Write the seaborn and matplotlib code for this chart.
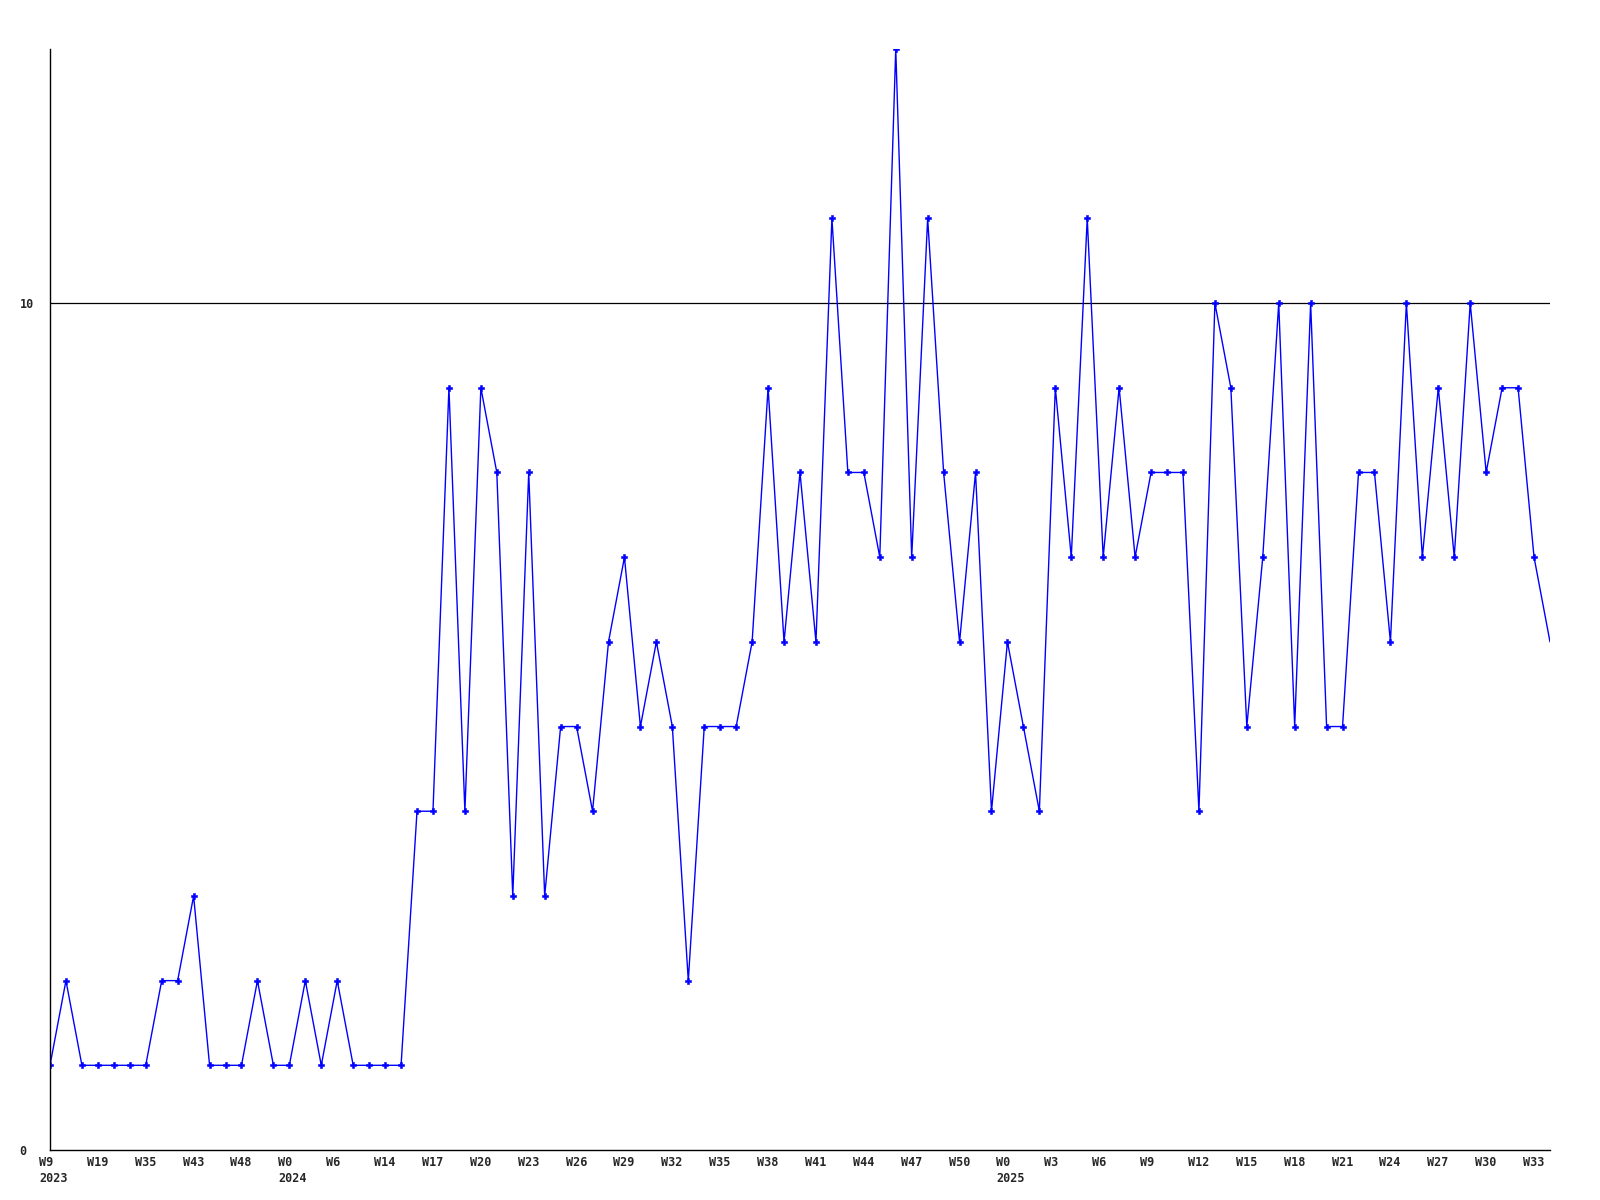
import matplotlib
matplotlib.use('Agg')
import matplotlib.pyplot as plt
import matplotlib.transforms as mtransforms
import numpy as np
import pandas as pd
import seaborn as sns

# weekly counts, one point per week
counts = [
    1, 2, 1, 1, 1, 1, 1, 2, 2, 3,
    1, 1, 1, 2, 1, 1, 2, 1, 2, 1,
    1, 1, 1, 4, 4, 9, 4, 9, 8, 3,
    8, 3, 5, 5, 4, 6, 7, 5, 6, 5,
    2, 5, 5, 5, 6, 9, 6, 8, 6, 11,
    8, 8, 7, 13, 7, 11, 8, 6, 8, 4,
    6, 5, 4, 9, 7, 11, 7, 9, 7, 8,
    8, 8, 4, 10, 9, 5, 7, 10, 5, 10,
    5, 5, 8, 8, 6, 10, 7, 9, 7, 10,
    8, 9, 9, 7, 6,
]

# one label every third point
week_labels = ['W9', 'W19', 'W35', 'W43', 'W48', 'W0', 'W6', 'W14', 'W17', 'W20',
               'W23', 'W26', 'W29', 'W32', 'W35', 'W38', 'W41', 'W44', 'W47', 'W50',
               'W0', 'W3', 'W6', 'W9', 'W12', 'W15', 'W18', 'W21', 'W24', 'W27',
               'W30', 'W33']
year_labels = {0: '2023', 5: '2024', 20: '2025'}

y_ticks = [0, 10]

df = pd.DataFrame({'week': np.arange(len(counts)), 'count': counts})

sns.set_style('white')
plt.rcParams['font.family'] = ['DejaVu Sans Mono']

fig = plt.figure(figsize=(16, 12), dpi=100)
ax = fig.add_axes([50 / 1600, 1 - 1150 / 1200, 1500 / 1600, 1101 / 1200])

# last point sits on the right edge and shows no marker
sns.lineplot(data=df, x='week', y='count', ax=ax, color='#0000ff',
             linewidth=1.0, marker='P', markersize=5,
             markeredgewidth=0.4, markeredgecolor='#0000ff',
             markerfacecolor='#0000ff', markevery=list(range(len(counts) - 1)))

ax.axhline(10, color='black', linewidth=0.9, zorder=0)

ax.set_xlim(0, len(counts) - 1)
ax.set_ylim(0, 13)

tick_pos = np.arange(0, len(week_labels) * 3, 3)
labels = [w + ('\n' + year_labels[i] if i in year_labels else '')
          for i, w in enumerate(week_labels)]
ax.set_xticks(tick_pos)
ax.set_xticklabels(labels, fontsize=8.5, fontweight='bold', ha='left',
                   multialignment='left', linespacing=1.3)
ax.set_yticks(y_ticks)
ax.set_yticklabels([str(v) for v in y_ticks], fontsize=8.5,
                   fontweight='bold', ha='left')

ax.tick_params(axis='x', length=0, pad=4)
ax.tick_params(axis='y', length=0, pad=22)

shift = mtransforms.ScaledTranslation(-11 / 100, 0, fig.dpi_scale_trans)
for lbl in ax.get_xticklabels():
    lbl.set_transform(lbl.get_transform() + shift)

ax.set_xlabel('')
ax.set_ylabel('')
for side in ['top', 'right']:
    ax.spines[side].set_visible(False)
for side in ['left', 'bottom']:
    ax.spines[side].set_color('black')
    ax.spines[side].set_linewidth(1.0)

plt.savefig('out.png', dpi=100)
plt.close()
